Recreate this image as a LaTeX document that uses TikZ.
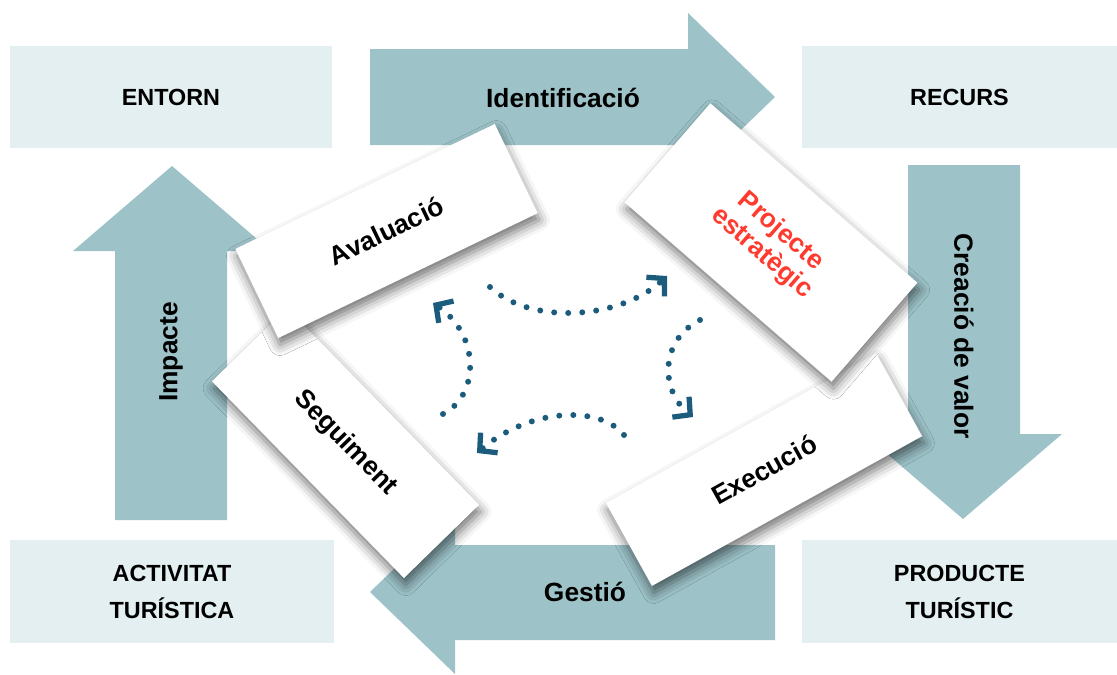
\documentclass[tikz,border=0pt]{standalone}
\usepackage{fontspec}
\setmainfont{Liberation Sans}
\usetikzlibrary{arrows.meta,shadows.blur}

\definecolor{zonefill}{HTML}{E3EFF0}
\definecolor{flowfill}{HTML}{9DC3C9}
\definecolor{loopblue}{HTML}{1B5B7C}
\definecolor{hotred}{HTML}{FF3B30}

\tikzset{
  zone/.style={fill=zonefill, minimum height=2.06cm, align=center,
    font=\bfseries\fontsize{13.3}{21}\selectfont},
  flowlabel/.style={font=\bfseries\fontsize{15}{18}\selectfont},
  card/.style={fill=white, inner sep=0pt, align=center,
    font=\bfseries\fontsize{15}{16.5}\selectfont,
    blur shadow={shadow xshift=1pt, shadow yshift=-4pt,
      shadow blur radius=6pt, shadow opacity=55}},
  dotflow/.style={loopblue, line width=3.4pt, line cap=round,
    dash pattern=on 0pt off 8pt,
    -{Straight Barb[length=7pt,width=15pt,line width=3pt]}}
}

\begin{document}
\begin{tikzpicture}[x=0.02cm,y=-0.02cm]
\useasboundingbox (0,0) rectangle (1117,674);

        % corner boxes
        \begin{scope}[every node/.style={zone}]
          \node[minimum width=6.44cm] (entorn)    at (171,97)      {ENTORN};
          \node[minimum width=6.3cm]  (recurs)    at (959.5,97)    {RECURS};
          \node[minimum width=6.48cm] (activitat) at (172,591.5)   {ACTIVITAT\\TURÍSTICA};
          \node[minimum width=6.3cm]  (producte)  at (959.5,591.5) {PRODUCTE\\TURÍSTIC};
        \end{scope}

        % big arrows
        \fill[flowfill] (370,49) -- (688,49) -- (688,13) -- (775,97) -- (688,181) -- (688,145) -- (370,145) -- cycle;
        \fill[flowfill] (908,165) -- (1020,165) -- (1020,434) -- (1062,434) -- (963,519) -- (864,434) -- (908,434) -- cycle;
        \fill[flowfill] (775,545) -- (455,545) -- (455,510) -- (370,592) -- (455,674) -- (455,640) -- (775,640) -- cycle;
        \fill[flowfill] (115,520) -- (115,251) -- (73,251) -- (172,166) -- (271,251) -- (227,251) -- (227,520) -- cycle;

        \begin{scope}[every node/.style={flowlabel}]
          \node             (ident)   at (563,98)  {Identificació};
          \node[rotate=-90] (creacio) at (964,336) {Creació de valor};
          \node             (gestio)  at (585,592) {Gestió};
          \node[rotate=90]  (impacte) at (171,352) {Impacte};
        \end{scope}

        % cards
        \node[card, minimum width=5.5cm,  minimum height=2.1cm,  rotate=-45.7] (seguiment) at (345.5,443) {Seguiment};
        \node[card, minimum width=5.76cm, minimum height=1.98cm, rotate=25.7]  (avaluacio) at (386.5,231) {Avaluació};
        \node[card, minimum width=6.18cm, minimum height=1.9cm,  rotate=29]    (execucio)  at (764,469.5) {Execució};
        \node[card, minimum width=5.48cm, minimum height=2.62cm, rotate=-40.9, text=hotred] (projecte) at (771,242.5) {Projecte\\estratègic};

        % dotted loop
        \coordinate (top a) at (490,287);
        \coordinate (top b) at (667,276);
        \coordinate (right a) at (700,320);
        \coordinate (right b) at (693,417);
        \coordinate (bottom a) at (624,435);
        \coordinate (bottom b) at (477,453);
        \coordinate (left a) at (443,414);
        \coordinate (left b) at (433,303);

        \draw[dotflow] (top a) .. controls (530,325) and (620,320) .. (top b);
        \draw[dotflow] (right a) .. controls (660,340) and (660,390) .. (right b);
        \draw[dotflow] (bottom a) .. controls (600,405) and (530,408) .. (bottom b);
        \draw[dotflow] (left a) .. controls (480,395) and (480,335) .. (left b);

      \end{tikzpicture}
\end{document}
